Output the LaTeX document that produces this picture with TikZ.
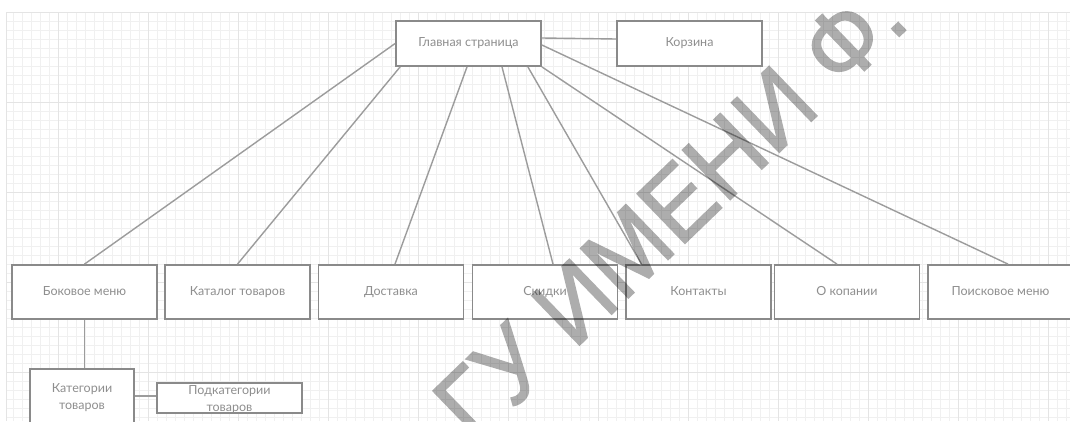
\documentclass[tikz,border=0pt]{standalone}
\usepackage{fontspec}
\usepackage{graphicx}
\setmainfont{Lato}
\newfontfamily\wmfont[FakeBold=1.5]{Liberation Sans}
\definecolor{boxc}{HTML}{8A8A8A}
\definecolor{linec}{HTML}{9C9C9C}
\definecolor{txtc}{HTML}{8E8E8E}
\definecolor{gridminor}{HTML}{F0F0F0}
\definecolor{gridmajor}{HTML}{E4E4E4}
\begin{document}
\begin{tikzpicture}[x=1pt,y=-1pt,
  box/.style={draw=boxc, line width=1.8pt, fill=white, minimum width=145pt,
    minimum height=54pt, inner sep=0pt, text=txtc, text height=9.2pt, text depth=2.6pt,
    font=\fontsize{12.5}{17}\selectfont, align=center},
  txt/.style={text=txtc, inner sep=0pt, font=\fontsize{12.5}{17}\selectfont, align=center},
  link/.style={draw=linec, line width=1.4pt},
  minorgrid/.style={draw=gridminor, line width=0.6pt},
  majorgrid/.style={draw=gridmajor, line width=0.7pt}]
\useasboundingbox (0,0) rectangle (1070,421);
\clip (0,0) rectangle (1070,421);
\fill[white] (0,0) rectangle (1070,421);
% grid
\foreach \i in {0,...,117} {\draw[minorgrid] ({13+9*\i},12) -- ({13+9*\i},421);}
\foreach \i in {0,...,45} {\draw[minorgrid] (6,{12+9*\i}) -- (1070,{12+9*\i});}
\foreach \j in {0,...,11} {\draw[majorgrid] ({58+90*\j},12) -- ({58+90*\j},421);}
\foreach \j in {0,...,4} {\draw[majorgrid] (6,{12+90*\j}) -- (1070,{12+90*\j});}
\draw[majorgrid] (6,12) -- (6,421);
% nodes
\node[box, minimum height=45pt] (main) at (468.5,43.5) {Главная страница};
\node[box, minimum height=45pt] (korz) at (689.5,43.5) {Корзина};
\node[box] (bok) at (84.5,292) {Боковое меню};
\node[box] (kat) at (237.5,292) {Каталог товаров};
\node[box] (dost) at (391,292) {Доставка};
\node[box] (skid) at (545,292) {Скидки};
\node[box] (kont) at (698.5,292) {Контакты};
\node[box] (okop) at (847,292) {О копании};
\node[box] (poisk) at (1000.5,292) {Поисковое меню};
\node[box, minimum width=104pt, minimum height=57pt] (katg) at (82,397.5) {};
\node[box, minimum height=30pt] (podk) at (229.5,398) {};
% connectors
\draw[link] (main.west) -- (bok.north);
\draw[link] ([xshift=5pt]main.south west) -- (kat.north);
\draw[link] ([xshift=-1.5pt]main.south) -- ([xshift=4pt]dost.north);
\draw[link] ([xshift=33.5pt]main.south) -- ([xshift=8pt]skid.north);
\draw[link] ([xshift=-14pt]main.south east) -- ([xshift=-57pt]kont.north);
\draw[link] (main.south east) -- ([xshift=-10pt]okop.north);
\draw[link] ([yshift=-1.5pt]main.east) -- ([xshift=7.5pt]poisk.north);
\draw[link] ([yshift=5.5pt]main.east) -- ([yshift=4.5pt]korz.west);
\draw[link] (bok.south) -- (bok.south |- katg.north);
\draw[link] ([yshift=1.5pt]katg.east) -- ([yshift=2pt]podk.west);
% labels of the lower boxes
\node[txt] (katgt) at ([yshift=-0.5pt]katg.center) {Категории\\товаров};
\node[txt] (podkt) at ([yshift=-1.5pt]podk.center) {Подкатегории\\товаров};
% watermark
\begin{scope}[transparency group, opacity=0.32]
\node[anchor=base east, rotate=44, text=black, inner sep=0pt,
  font=\wmfont\fontsize{100}{100}\selectfont] (wm) at (912,24)
  {\scalebox{0.944}[1]{ГУ ИМЕНИ Ф.}};
\end{scope}
\end{tikzpicture}
\end{document}
